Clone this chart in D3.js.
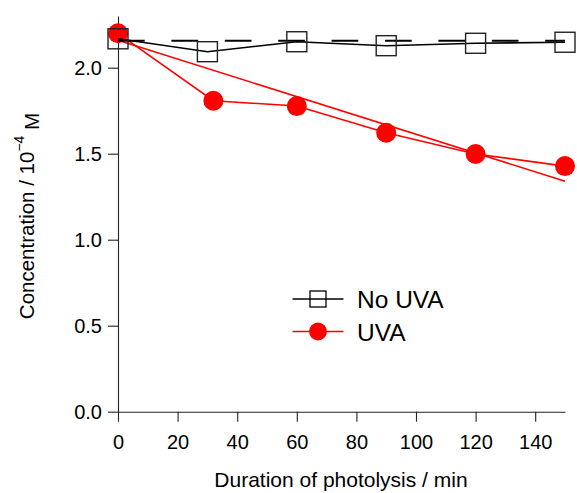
<!DOCTYPE html>
<html>
<head>
<meta charset="utf-8">
<script src="https://cdn.jsdelivr.net/npm/d3@7"></script>
<style>
  html, body { margin: 0; padding: 0; background: #fff; }
  svg { display: block; }
  text { font-family: "Liberation Sans", Arial, Helvetica, sans-serif; }
</style>
</head>
<body>
<svg id="chart" width="577" height="493"></svg>
<script>
// ---- data ----
const noUvaTime = [0, 30, 60, 90, 120, 150];
const noUvaConc = [2.168, 2.093, 2.151, 2.128, 2.142, 2.148];
const uvaTime = [0, 32, 60, 90, 120, 150];
const uvaConc = [2.20, 1.808, 1.777, 1.622, 1.498, 1.428];
const fitTime = [0, 150];
const fitConc = [2.16, 1.34];
const meanTime = [0, 150];
const meanConc = [2.157, 2.157];
const xTicks = [0, 20, 40, 60, 80, 100, 120, 140];
const yTicks = [0.0, 0.5, 1.0, 1.5, 2.0];
const legendLabels = ["No UVA", "UVA"];
const xTitle = "Duration of photolysis / min";

// ---- layout ----
const svg = d3.select("#chart");
const x = d3.scaleLinear().domain([0, 150]).range([118, 565]);
const y = d3.scaleLinear().domain([0, 2.3]).range([411.7, 16.1]);

const xAxis = svg.append("g")
  .attr("transform", `translate(0,${y(0)})`)
  .call(d3.axisBottom(x).tickValues(xTicks).tickFormat(d3.format("d")).tickSize(10).tickSizeOuter(0).tickPadding(8));
const yAxis = svg.append("g")
  .attr("transform", `translate(${x(0)},0)`)
  .call(d3.axisLeft(y).tickValues(yTicks).tickFormat(d3.format(".1f")).tickSize(10).tickSizeOuter(0).tickPadding(6));
[xAxis, yAxis].forEach(g => {
  g.selectAll("path.domain").attr("stroke", "#222").attr("stroke-width", 1.1);
  g.selectAll(".tick line").attr("stroke", "#222").attr("stroke-width", 1.1);
  g.selectAll(".tick text").attr("fill", "#000").style("font-size", "20px")
    .style("font-family", "'Liberation Sans', Arial, sans-serif");
});
xAxis.selectAll(".tick text").attr("dy", null).attr("y", 37);
yAxis.selectAll(".tick text").attr("dy", "0.35em");

// titles
svg.append("text")
  .attr("x", 341)
  .attr("y", 487)
  .attr("text-anchor", "middle")
  .style("font-size", "21px")
  .text(xTitle);

const yt = svg.append("text")
  .attr("transform", "translate(34,216) rotate(-90)")
  .attr("text-anchor", "middle")
  .style("font-size", "20.5px");
yt.append("tspan").text("Concentration / 10");
yt.append("tspan").attr("dy", "-0.72em").style("font-size", "14px").text("\u22124");
yt.append("tspan").attr("dy", "0.72em").text(" M");

// ---- marks ----
const zip = (a, b) => a.map((v, i) => [v, b[i]]);
const line = d3.line().x(d => x(d[0])).y(d => y(d[1]));

// UVA fit
svg.append("path").datum(zip(fitTime, fitConc))
  .attr("d", line).attr("fill", "none").attr("stroke", "#ff0000").attr("stroke-width", 1.6);
// UVA connecting line
svg.append("path").datum(zip(uvaTime, uvaConc))
  .attr("d", line).attr("fill", "none").attr("stroke", "#ff0000").attr("stroke-width", 1.6);
svg.selectAll("circle.uva").data(zip(uvaTime, uvaConc)).enter().append("circle")
  .attr("class", "uva")
  .attr("cx", d => x(d[0])).attr("cy", d => y(d[1])).attr("r", 10)
  .attr("fill", "#ff0000");

// No UVA mean (dashed)
svg.append("path").datum(zip(meanTime, meanConc))
  .attr("d", line).attr("fill", "none").attr("stroke", "#000").attr("stroke-width", 2)
  .attr("stroke-dasharray", "26.7,26.7");
// No UVA line
svg.append("path").datum(zip(noUvaTime, noUvaConc))
  .attr("d", line).attr("fill", "none").attr("stroke", "#000").attr("stroke-width", 1.6);
svg.selectAll("rect.nouva").data(zip(noUvaTime, noUvaConc)).enter().append("rect")
  .attr("class", "nouva")
  .attr("x", d => x(d[0]) - 10).attr("y", d => y(d[1]) - 10)
  .attr("width", 20).attr("height", 20)
  .attr("fill", "none").attr("stroke", "#222").attr("stroke-width", 1.4);

// ---- legend ----
const legend = svg.append("g");
const legY = [299, 331.5];
const legColors = ["#000", "#ff0000"];
legendLabels.forEach((lab, i) => {
  const g = legend.append("g").attr("transform", `translate(0,${legY[i]})`);
  g.append("line").attr("x1", 292.5).attr("x2", 343.5).attr("y1", 0).attr("y2", 0)
    .attr("stroke", legColors[i]).attr("stroke-width", 1.6);
  if (i === 0) {
    g.append("rect").attr("x", 318 - 8).attr("y", -8).attr("width", 16).attr("height", 16)
      .attr("fill", "none").attr("stroke", "#000").attr("stroke-width", 1.3);
  } else {
    g.append("circle").attr("cx", 318).attr("cy", 0).attr("r", 9).attr("fill", "#ff0000");
  }
  g.append("text").attr("x", 357).attr("y", 9).style("font-size", "24.5px").text(lab);
});
</script>
</body>
</html>
